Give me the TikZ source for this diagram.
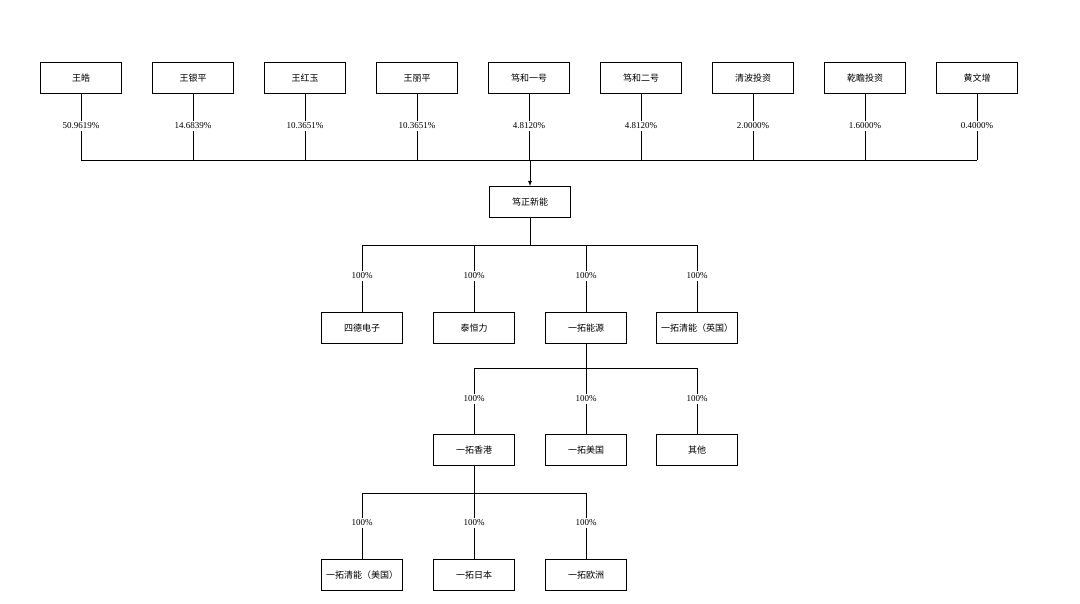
\documentclass[tikz,border=0pt]{standalone}
\usepackage{fontspec}
\setmainfont{Liberation Serif}
\newfontfamily\cjk{Noto Sans CJK SC}
\usepackage{tikz}
\usepackage{xcolor}
\tikzset{
    org-box/.style = {draw=black, fill=white, thick, rectangle, minimum width=81pt, minimum height=31pt, inner sep=1pt, font=\cjk\fontsize{9}{10}\selectfont},
    share-label/.style = {fill=white, inner sep=1.5pt, font=\fontsize{9}{10}\selectfont},
    tree-line/.style = {draw=black, thick},
}
\begin{document}
\begin{tikzpicture}[x=1pt, y=-1pt]
\useasboundingbox (0,0) rectangle (1080,604);
% shareholders
\foreach \name/\pct [count=\i] in {王皓/50.9619\%, 王银平/14.6839\%, 王红玉/10.3651\%, 王丽平/10.3651\%, 笃和一号/4.8120\%, 笃和二号/4.8120\%, 清波投资/2.0000\%, 乾瞻投资/1.6000\%, 黄文增/0.4000\%}{
    \node[org-box] (holder\i) at ({81+112*(\i-1)}, 78) {\name};
    \node[share-label] (pct\i) at ({81+112*(\i-1)}, 126) {\pct};
    \coordinate (bar\i) at ({81+112*(\i-1)}, 160);
    \draw[tree-line] (holder\i) -- (pct\i);
    \draw[tree-line] (pct\i) -- (bar\i);
}
\draw[tree-line] (bar1) -- (bar9);
\node[org-box] (duzheng) at (530, 202) {笃正新能};
\coordinate (top) at (530, 160);
\draw[tree-line, -latex] (top) -- (duzheng);

% subsidiaries
\coordinate (split1) at (530, 245);
\draw[tree-line] (duzheng) -- (split1);
\foreach \name/\x [count=\i] in {四德电子/362, 泰恒力/474, 一拓能源/586, 一拓清能（英国）/697}{
    \coordinate (lvlA\i) at (\x, 245);
    \node[share-label] (pctA\i) at (\x, 276) {100\%};
    \node[org-box] (subA\i) at (\x, 328) {\name};
    \draw[tree-line] (lvlA\i) -- (pctA\i);
    \draw[tree-line] (pctA\i) -- (subA\i);
}
\draw[tree-line] (lvlA1) -- (lvlA4);

\coordinate (split2) at (586, 368);
\draw[tree-line] (subA3) -- (split2);
\foreach \name/\x [count=\i] in {一拓香港/474, 一拓美国/586, 其他/697}{
    \coordinate (lvlB\i) at (\x, 368);
    \node[share-label] (pctB\i) at (\x, 399) {100\%};
    \node[org-box] (subB\i) at (\x, 450) {\name};
    \draw[tree-line] (lvlB\i) -- (pctB\i);
    \draw[tree-line] (pctB\i) -- (subB\i);
}
\draw[tree-line] (lvlB1) -- (lvlB3);

\coordinate (split3) at (474, 493);
\draw[tree-line] (subB1) -- (split3);
\foreach \name/\x [count=\i] in {一拓清能（美国）/362, 一拓日本/474, 一拓欧洲/586}{
    \coordinate (lvlC\i) at (\x, 493);
    \node[share-label] (pctC\i) at (\x, 523) {100\%};
    \node[org-box] (subC\i) at (\x, 575) {\name};
    \draw[tree-line] (lvlC\i) -- (pctC\i);
    \draw[tree-line] (pctC\i) -- (subC\i);
}
\draw[tree-line] (lvlC1) -- (lvlC3);
\end{tikzpicture}
\end{document}
